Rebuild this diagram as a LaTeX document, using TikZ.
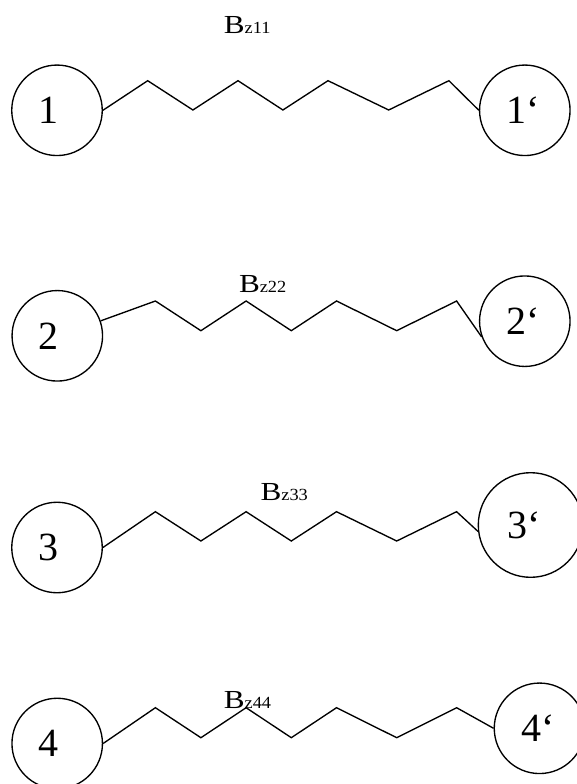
\documentclass[tikz,border=0pt]{standalone}
\usepackage{fontspec}
\setmainfont{Liberation Serif}
\usepackage{graphicx}
% coupling label: large B followed by a smaller "z" index on the same baseline
\newcommand\couplinglabel[1]{{\fontsize{26}{26}\selectfont\scalebox{1.2}[1]{B}}{\fontsize{17}{17}\selectfont\scalebox{1.08}[1]{z#1}}}
\begin{document}
\begin{tikzpicture}[x=1pt,y=1pt,
  ball/.style={draw, line width=1.35pt, circle, inner sep=0pt, minimum size=90.5pt,
               text width=37pt, align=left, font=\fontsize{40}{40}\selectfont},
  chain/.style={line width=1.35pt, line join=miter},
  coupling/.style={inner sep=0pt, anchor=base west}]
\useasboundingbox (0,0) rectangle (576,-784);

% pair 1
\node[ball] (c1)  at (57,-110.3)    {1};
\node[ball] (c1p) at (524.8,-110.3) {1‘};
\draw[chain] (c1.east) -- (147.7,-80.7) -- (192.9,-110) -- (238,-80.7) -- (282.9,-110)
  -- (328,-80.7) -- (388.7,-110) -- (448.9,-80.7) -- (c1p.west);
\node[coupling] (b11) at (223.6,-33.3) {\couplinglabel{11}};

% pair 2
\node[ball] (c2)  at (57.3,-335.8)  {2};
\node[ball] (c2p) at (524.8,-321.2) {2‘};
\draw[chain] (c2.19) -- (155.4,-301) -- (200.9,-330.7) -- (246.1,-301) -- (291.3,-330.7)
  -- (336.5,-301) -- (396.7,-330.7) -- (456.6,-301) -- (c2p.200);
\node[coupling] (b22) at (238.8,-292.7) {\couplinglabel{22}};

% pair 3
\node[ball] (c3)  at (57,-547.5) {3};
\node[ball, minimum size=104.6pt, text width=46pt] (c3p) at (530.6,-525) {3‘};
\draw[chain] (c3.east) -- (155.4,-511.7) -- (200.9,-541) -- (246.1,-511.7) -- (291.3,-541)
  -- (336.5,-511.7) -- (396.7,-541) -- (456.6,-511.7) -- (c3p.187);
\node[coupling] (b33) at (260.4,-500.7) {\couplinglabel{33}};

% pair 4
\node[ball] (c4)  at (57.2,-743.5)  {4};
\node[ball] (c4p) at (539.5,-728.3) {4‘};
\draw[chain] (c4.east) -- (155.4,-707.7) -- (200.9,-737.7) -- (246.1,-707.7) -- (291.3,-737.7)
  -- (336.5,-707.7) -- (396.7,-737.7) -- (456.6,-707.7) -- (c4p.west);
\node[coupling] (b44) at (223.6,-708.3) {\couplinglabel{44}};
\end{tikzpicture}
\end{document}
